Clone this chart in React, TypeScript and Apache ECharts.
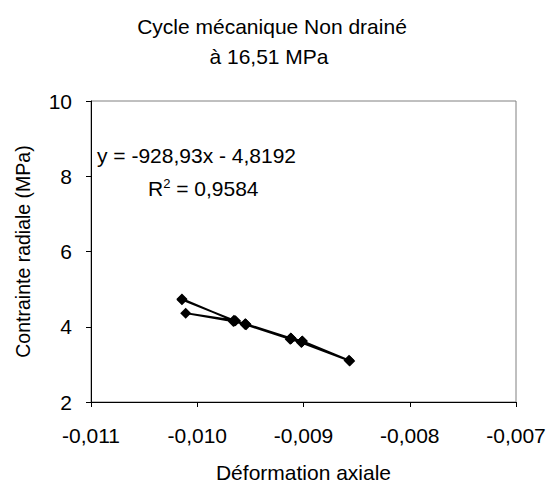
import React, { useEffect, useRef } from "react";
import * as echarts from "echarts";

const strainValues = [
  -0.010144, -0.00965, -0.009544, -0.009118, -0.009017, -0.008572,
  -0.00901, -0.00912, -0.00954, -0.00964, -0.010109,
  -0.00966, -0.00955, -0.009125, -0.00902, -0.008565,
  -0.009015, -0.009115, -0.009548, -0.009655, -0.010144,
];
const stressValues = [
  4.74, 4.15, 4.07, 3.69, 3.6, 3.11,
  3.62, 3.7, 4.05, 4.16, 4.36,
  4.14, 4.06, 3.67, 3.58, 3.09,
  3.61, 3.69, 4.08, 4.17, 4.72,
];
const titleLines = ["Cycle mécanique Non drainé", "à 16,51 MPa"];
const equationText = "y = -928,93x - 4,8192";
const r2Value = "0,9584";

const FONT = "'Liberation Sans', Arial, sans-serif";
const FS = 21;

export default function App() {
  const ref = useRef<HTMLDivElement>(null);
  useEffect(() => {
    if (!ref.current) return;
    const chart = echarts.init(ref.current, undefined, { renderer: "svg" });
    const data = strainValues.map((x, i) => [x, stressValues[i]]);
    chart.setOption({
      animation: false,
      backgroundColor: "#ffffff",
      textStyle: { fontFamily: FONT, color: "#000" },
      grid: {
        left: 91,
        right: 40,
        top: 101,
        bottom: 87,
        show: true,
        borderColor: "#808080",
        borderWidth: 1,
        backgroundColor: "transparent",
      },
      xAxis: {
        type: "value",
        min: -0.011,
        max: -0.007,
        interval: 0.001,
        name: "Déformation axiale",
        nameLocation: "middle",
        nameGap: 60,
        nameTextStyle: { fontSize: FS, color: "#000", fontFamily: FONT },
        axisLine: { show: true, onZero: false, lineStyle: { color: "#000", width: 1 } },
        axisTick: { show: true, inside: false, length: 5, lineStyle: { color: "#000" } },
        axisLabel: {
          fontSize: FS,
          color: "#000",
          fontFamily: FONT,
          margin: 23,
          formatter: (v: number) => v.toFixed(3).replace(".", ","),
        },
        splitLine: { show: false },
      },
      yAxis: {
        type: "value",
        min: 2,
        max: 10,
        interval: 2,
        name: "Contrainte radiale (MPa)",
        nameLocation: "middle",
        nameGap: 58,
        nameRotate: 90,
        nameTextStyle: { fontSize: 19.5, color: "#000", fontFamily: FONT },
        axisLine: { show: true, onZero: false, lineStyle: { color: "#000", width: 1 } },
        axisTick: { show: true, inside: false, length: 5, lineStyle: { color: "#000" } },
        axisLabel: { fontSize: FS, color: "#000", fontFamily: FONT, margin: 19 },
        splitLine: { show: false },
      },
      series: [
        {
          type: "line",
          data,
          symbol: "diamond",
          symbolSize: 11,
          showAllSymbol: true,
          itemStyle: { color: "#000" },
          lineStyle: { color: "#000", width: 1.8 },
          z: 3,
        },
      ],
      graphic: [
        {
          type: "text",
          x: 272,
          y: 26,
          style: {
            text: titleLines[0],
            font: `${FS}px ${FONT}`,
            fill: "#000",
            align: "center",
            verticalAlign: "middle",
          },
        },
        {
          type: "text",
          x: 269,
          y: 56,
          style: {
            text: titleLines[1],
            font: `${FS}px ${FONT}`,
            fill: "#000",
            align: "center",
            verticalAlign: "middle",
          },
        },
        {
          type: "text",
          x: 97,
          y: 155,
          style: {
            text: equationText,
            font: `${FS}px ${FONT}`,
            fill: "#000",
            align: "left",
            verticalAlign: "middle",
          },
        },
        {
          type: "text",
          x: 148,
          y: 188,
          style: {
            text: "{a|R}{s|2}{a| = " + r2Value + "}",
            fill: "#000",
            align: "left",
            verticalAlign: "middle",
            rich: {
              a: { fontSize: FS, fontFamily: FONT, fill: "#000", lineHeight: 24 },
              s: { fontSize: 13, fontFamily: FONT, fill: "#000", padding: [0, 0, 10, 0], lineHeight: 24 },
            },
          },
        },
      ],
    });
    return () => chart.dispose();
  }, []);
  return <div ref={ref} style={{ width: 556, height: 489, position: "absolute", left: 0, top: 0 }} />;
}
